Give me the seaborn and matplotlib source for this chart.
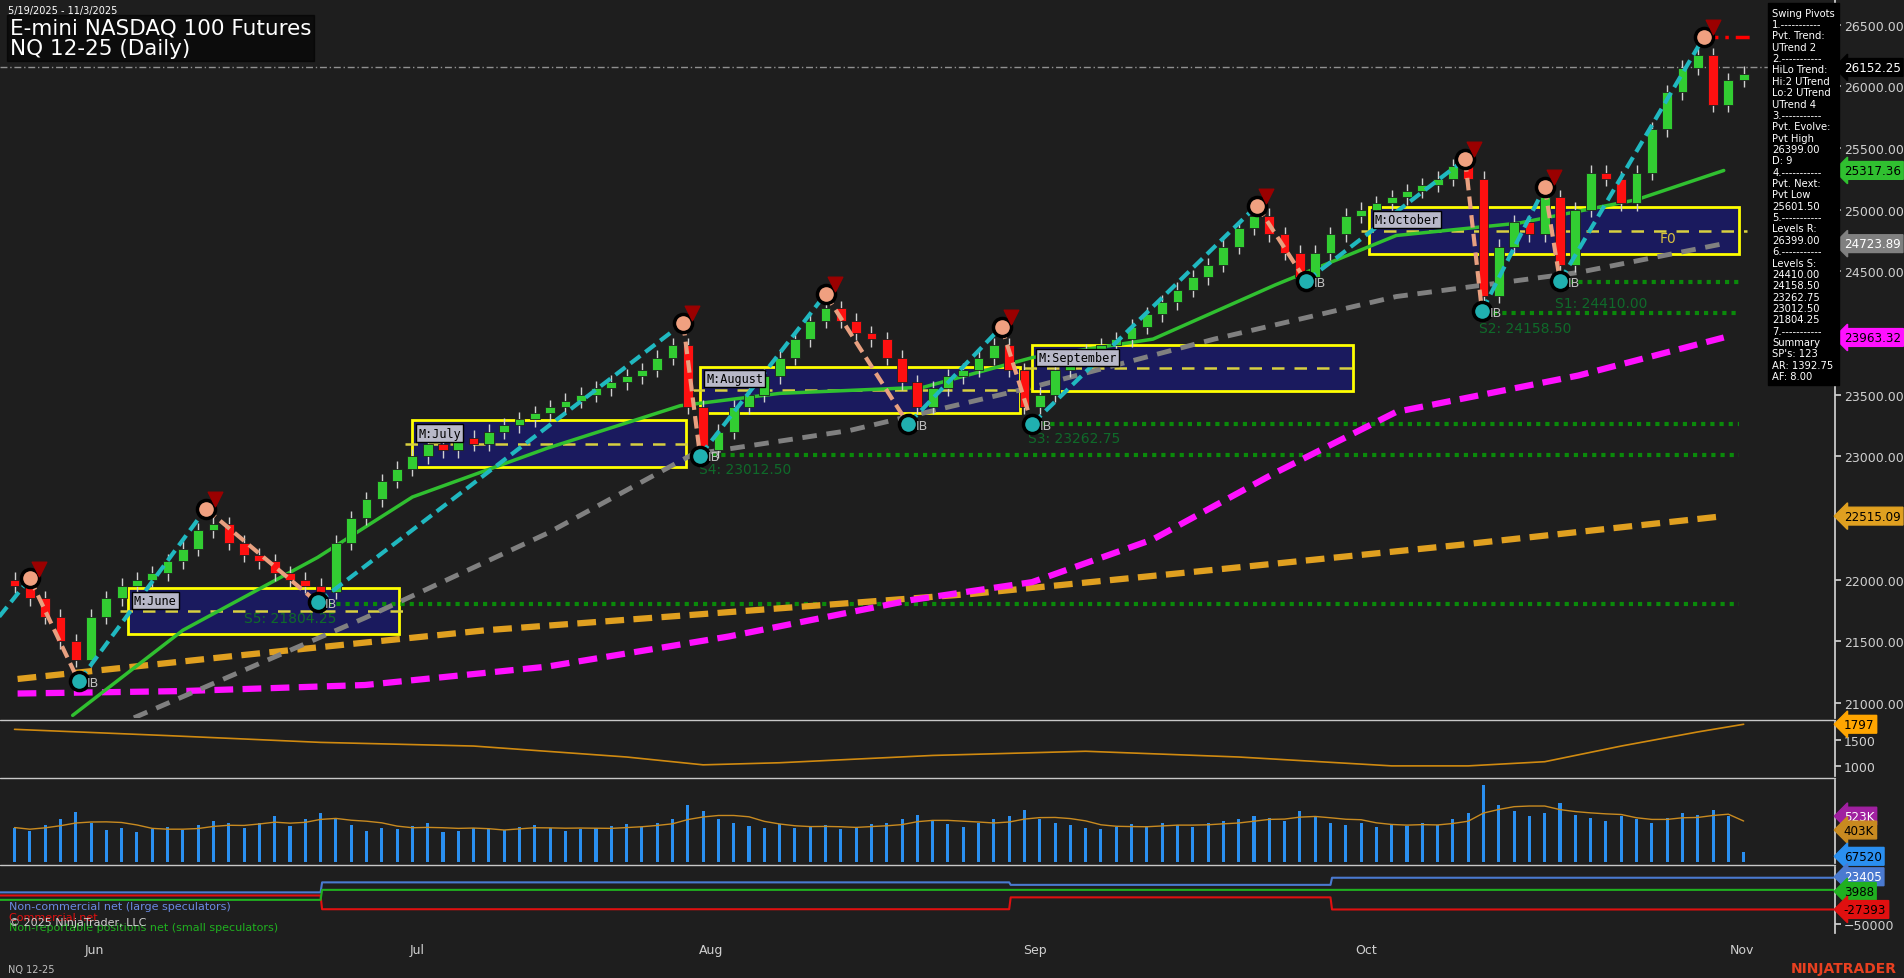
import numpy as np
import pandas as pd
import matplotlib
matplotlib.use("Agg")
import matplotlib.pyplot as plt
import seaborn as sns
from matplotlib.patches import Rectangle

sns.set_theme(style="dark")
plt.rcParams['font.family'] = ['DejaVu Sans']

BG = "#1e1e1e"
closes = [21950, 21850, 21700, 21500, 21350, 21700, 21850, 21950, 22000, 22050,
          22150, 22250, 22400, 22450, 22300, 22200, 22150, 22050, 22000, 21950,
          21900, 22300, 22500, 22650, 22800, 22900, 23000, 23100, 23050, 23150,
          23100, 23200, 23250, 23300, 23350, 23400, 23450, 23500, 23550, 23600,
          23650, 23700, 23800, 23900, 23400, 23050, 23200, 23400, 23500, 23650,
          23800, 23950, 24100, 24200, 24100, 24000, 23950, 23800, 23600, 23400,
          23550, 23650, 23700, 23800, 23900, 23700, 23400, 23500, 23700, 23800,
          23850, 23900, 23950, 24050, 24150, 24250, 24350, 24450, 24550, 24700,
          24850, 24950, 24800, 24650, 24450, 24650, 24800, 24950, 25000, 25050,
          25100, 25150, 25200, 25250, 25350, 25250, 24300, 24700, 24900, 24800,
          25100, 24550, 25000, 25300, 25250, 25050, 25300, 25650, 25950, 26150,
          26250, 25850, 26050, 26100]
first_open = 22000
volumes_k = [420, 380, 450, 520, 610, 480, 390, 410, 370, 400, 430, 390, 450, 500,
             470, 420, 480, 560, 440, 520, 600, 540, 450, 380, 420, 400, 440, 470,
             360, 380, 420, 400, 390, 430, 450, 410, 380, 400, 420, 440, 460, 430,
             480, 520, 700, 620, 520, 480, 440, 420, 460, 410, 430, 450, 400, 420,
             460, 480, 520, 580, 500, 460, 430, 470, 520, 560, 640, 520, 480, 450,
             420, 400, 430, 460, 440, 470, 450, 430, 480, 500, 520, 560, 540, 500,
             620, 560, 480, 450, 470, 430, 460, 440, 480, 450, 520, 600, 940, 700,
             620, 560, 600, 720, 580, 540, 500, 560, 520, 480, 540, 600, 580, 640,
             560, 120]
atr_idx = [0, 10, 20, 30, 40, 45, 50, 60, 70, 80, 90, 95, 100, 105, 110, 113]
atr_val = [1700, 1580, 1450, 1380, 1170, 1020, 1060, 1200, 1280, 1170, 1000, 1000, 1080, 1380, 1650, 1797]

ma_idx = [3.8, 11, 19.8, 26, 34.8, 43.5, 50, 59.4, 66.5, 74.4, 82.4, 90.3, 98.3, 106, 111.7]
ma_green = [20900, 21590, 22180, 22670, 23065, 23410, 23510, 23560, 23800, 23950, 24390, 24790, 24890, 25080, 25317]
gray_idx = [7.8, 22.9, 34.8, 44.3, 54.6, 66.5, 78.4, 90.3, 102.2, 111.7]
ma_gray = [20880, 21690, 22375, 23015, 23210, 23560, 23950, 24295, 24490, 24724]
mag_idx = [0.2, 11, 22.9, 34.8, 46.7, 58.6, 66.5, 74.4, 82.4, 90.3, 102.2, 111.7]
ma_mag = [21077, 21097, 21146, 21295, 21540, 21835, 21980, 22327, 22867, 23360, 23655, 23963]
org_idx = [0.2, 15, 30.8, 46.7, 62.5, 78.4, 94.3, 111.7]
ma_org = [21195, 21390, 21590, 21737, 21884, 22080, 22280, 22515]

piv_idx = [1, 4.2, 12.5, 19.8, 43.7, 44.8, 53, 58.4, 64.5, 66.5, 81.2, 84.4, 94.8, 95.9, 100, 101, 110.4]
piv_val = [22010, 21175, 22575, 21815, 24080, 23006, 24315, 23262, 24050, 23262, 25033, 24420, 25408, 24177, 25181, 24420, 26399]

boxes = [("M:June", 7.4, 25.1, 21560, 21933, 21745),
         ("M:July", 26.0, 43.9, 22917, 23291, 23100),
         ("M:August", 44.8, 65.7, 23351, 23725, 23540),
         ("M:September", 66.5, 87.5, 23528, 23902, 23715),
         ("M:October", 88.5, 112.7, 24640, 25024, 24830)]
supports = [("S5: 21804.25", 21804.25, 19.8), ("S4: 23012.50", 23012.5, 45),
            ("S3: 23262.75", 23262.75, 66.5), ("S2: 24158.50", 24158.5, 96),
            ("S1: 24410.00", 24410.0, 101)]
month_labels = ["Jun", "Jul", "Aug", "Sep", "Oct", "Nov"]
month_pos = [5.2, 26.3, 45.5, 66.7, 88.3, 112.9]
cot_idx = [-1, 20, 20.1, 65, 65.1, 86, 86.1, 119]
cot_noncomm = [0, 0, 16000, 16000, 12000, 12000, 23405, 23405]
cot_comm = [-5000, -5000, -27000, -27000, -8000, -8000, -27393, -27393]
cot_small = [-12000, -12000, 3988, 3988, 3988, 3988, 3988, 3988]

n = len(closes)
opens = [first_open] + closes[:-1]
df = pd.DataFrame({"i": np.arange(n), "open": opens, "close": closes})
df["up"] = df["close"] >= df["open"]

W, H = 19.04, 9.79
fig = plt.figure(figsize=(W, H), dpi=100, facecolor=BG)
XL = (-0.95, 119)
ax = fig.add_axes([0, 0.266, 0.964, 0.734], facecolor=BG)
ax_atr = fig.add_axes([0, 0.206, 0.964, 0.056], facecolor=BG)
ax_vol = fig.add_axes([0, 0.117, 0.964, 0.085], facecolor=BG)
ax_cot = fig.add_axes([0, 0.046, 0.964, 0.067], facecolor=BG)
for a in (ax, ax_atr, ax_vol, ax_cot):
    a.set_xlim(*XL)
    a.yaxis.tick_right()
    a.tick_params(axis='y', colors="#d0d0d0", labelsize=9, length=4, direction='out', pad=2)
    a.tick_params(axis='x', length=0, labelbottom=False)
    for s in a.spines.values():
        s.set_visible(False)
    a.spines['right'].set_visible(True); a.spines['right'].set_color("#d0d0d0")
    a.grid(False)
for yy in (0.264, 0.204, 0.115):
    fig.add_artist(plt.Line2D([0, 0.964], [yy, yy], color="#c8c8c8", lw=1))

ax.set_ylim(20882, 26707)
ax.set_yticks(np.arange(21000, 26501, 500))
ax.set_yticklabels([f"{v:.2f}" for v in np.arange(21000, 26501, 500)])

# boxes
for name, x0, x1, lo, hi, mid in boxes:
    ax.add_patch(Rectangle((x0, lo), x1 - x0, hi - lo, facecolor="#1a1a5e", edgecolor="yellow", lw=2, zorder=1))
    ax.plot([x0 - 0.5, x1 + 0.5], [mid, mid], color="#d8d040", ls=(0, (5, 4)), lw=1.8, zorder=2)
    ax.text(x0 + 0.4, mid + 60, name, color="black", fontsize=8.5, family="DejaVu Sans Mono",
            bbox=dict(facecolor="#b8b8c8", edgecolor="black", pad=1.5), zorder=8)
ax.text(107.5, 24740, "F0", color="#d8c040", fontsize=10)

# supports
for lab, v, start in supports:
    ax.plot([start, 112.7], [v, v], color="#0a8a0a", ls=(0, (1, 1.2)), lw=3, zorder=2)
    ax.text(start - 0.3 if lab != "S5: 21804.25" else 15, v - 150 if lab != "S1: 24410.00" else v - 200,
            lab, color="#0f6a2a", fontsize=10, zorder=3)

# moving averages
sns.lineplot(x=org_idx, y=ma_org, ax=ax, color="#e0a020", lw=4.5, ls=(0, (3, 1.5)), zorder=3)
sns.lineplot(x=mag_idx, y=ma_mag, ax=ax, color="#ff10ff", lw=4.5, ls=(0, (3, 1.5)), zorder=3)
sns.lineplot(x=gray_idx, y=ma_gray, ax=ax, color="#808080", lw=3.5, ls=(0, (3, 2)), zorder=3)
sns.lineplot(x=ma_idx, y=ma_green, ax=ax, color="#30c030", lw=2.5, zorder=3)

# candles
for _, r in df.iterrows():
    lo, hi = sorted([r.open, r.close])
    col = "#32cd32" if r.up else "#ff1010"
    ax.vlines(r.i, lo - 60, hi + 60, color="#d0d0d0", lw=1, zorder=4)
    ax.add_patch(Rectangle((r.i - 0.32, lo), 0.64, max(hi - lo, 12), facecolor=col,
                           edgecolor="#202020", lw=0.6, zorder=5))

# pivot zigzag
for k in range(len(piv_idx) - 1):
    up = piv_val[k + 1] > piv_val[k]
    ax.plot(piv_idx[k:k + 2], piv_val[k:k + 2], color="#20b8c0" if up else "#e8a080",
            lw=3, ls=(0, (3, 1.5)), zorder=6)
ax.plot([-1, piv_idx[0]], [21700, piv_val[0]], color="#20b8c0", lw=3, ls=(0, (3, 1.5)), zorder=6)
for k, (px, pv) in enumerate(zip(piv_idx, piv_val)):
    high = k % 2 == 0
    ax.scatter(px, pv, s=170, color="#f0a080" if high else "#20b0b0", edgecolor="black", lw=2.5, zorder=7)
    if high:
        ax.scatter(px + 0.6, pv + 80, marker="v", s=110, color="#9b0000", zorder=7)
    else:
        ax.text(px + 0.5, pv - 40, "IB", color="#c0c0c0", fontsize=9, zorder=7)
ax.plot([110.4, 113.6], [26399, 26399], color="red", lw=2.5, ls=(0, (4, 2, 1, 2)), zorder=6)
ax.axhline(26152.25, color="#909090", lw=1, ls=(0, (5, 2, 1, 2)), zorder=1)

# right axis value tags
def tag(a, y, txt, fc, tc="black"):
    a.annotate(txt, xy=(1.0, y), xycoords=("axes fraction", "data"), xytext=(6, 0),
               textcoords="offset points", va="center", ha="left", fontsize=8.6, color=tc,
               bbox=dict(boxstyle="larrow,pad=0.2", facecolor=fc, edgecolor=fc), annotation_clip=False)
tag(ax, 26152.25, "26152.25", "black", "white")
tag(ax, 25317.36, "25317.36", "#30c030")
tag(ax, 24723.89, "24723.89", "#808080", "white")
tag(ax, 23963.32, "23963.32", "#ff10ff")
tag(ax, 22515.09, "22515.09", "#e0a020")

# info box
info = ("Swing Pivots\n1.-----------\nPvt. Trend:\nUTrend 2\n2.-----------\nHiLo Trend:\nHi:2 UTrend\n"
        "Lo:2 UTrend\nUTrend 4\n3.-----------\nPvt. Evolve:\nPvt High\n26399.00\nD: 9\n4.-----------\n"
        "Pvt. Next:\nPvt Low\n25601.50\n5.-----------\nLevels R:\n26399.00\n6.-----------\nLevels S:\n"
        "24410.00\n24158.50\n23262.75\n23012.50\n21804.25\n7.-----------\nSummary\nSP's: 123\nAR: 1392.75\nAF: 8.00")
ax.text(0.9655, 0.988, info, transform=ax.transAxes, color="white", fontsize=7.2, va="top", ha="left",
        linespacing=1.17, bbox=dict(facecolor="black", edgecolor="black", pad=3), zorder=9)

# titles
fig.text(0.004, 0.994, "5/19/2025 - 11/3/2025", color="white", fontsize=7, va="top")
fig.text(0.005, 0.981, "E-mini NASDAQ 100 Futures\nNQ 12-25 (Daily)", color="white", fontsize=15.5,
         va="top", linespacing=1.05, bbox=dict(facecolor="black", edgecolor="black", pad=2, alpha=0.6))

# ATR
ax_atr.set_ylim(800, 1850)
ax_atr.set_yticks([1000, 1500])
sns.lineplot(x=atr_idx, y=atr_val, ax=ax_atr, color="#d08a10", lw=1.2)
tag(ax_atr, 1797, "1797", "#ffa500")

# volume
ax_vol.set_ylim(-20000, 1000000)
ax_vol.set_yticks([])
ax_vol.bar(df["i"], np.array(volumes_k) * 1000, width=0.2, color="#2a8ff0", edgecolor="none", linewidth=0)
vol_avg = pd.Series(volumes_k).rolling(5, min_periods=1).mean() * 1000
sns.lineplot(x=df["i"], y=vol_avg, ax=ax_vol, color="#c88a20", lw=1)
tag(ax_vol, 560000, "523K", "#a020a0", "white")
tag(ax_vol, 390000, "403K", "#c88a20")
tag(ax_vol, 67520, "67520", "#2a8ff0")

# COT
ax_cot.set_ylim(-65000, 40000)
ax_cot.set_yticks([-50000])
sns.lineplot(x=cot_idx, y=cot_noncomm, ax=ax_cot, color="#4a7ad0", lw=1.5)
sns.lineplot(x=cot_idx, y=cot_comm, ax=ax_cot, color="#e01010", lw=1.5)
sns.lineplot(x=cot_idx, y=cot_small, ax=ax_cot, color="#20b020", lw=1.5)
ax_cot.set_xlim(*XL)
tag(ax_cot, 25000, "23405", "#4a7ad0", "white")
tag(ax_cot, 1500, "3988", "#20b020")
tag(ax_cot, -27393, "-27393", "#e01010")
ax_cot.text(0.005, 0.36, "Non-commercial net (large speculators)", transform=ax_cot.transAxes, color="#6a8ae0", fontsize=8)
ax_cot.text(0.005, 0.20, "Commercial net", transform=ax_cot.transAxes, color="#e01010", fontsize=8)
ax_cot.text(0.005, 0.04, "Non-reportable positions net (small speculators)", transform=ax_cot.transAxes, color="#20b020", fontsize=8)
ax_cot.text(0.005, 0.12, "© 2025 NinjaTrader, LLC", transform=ax_cot.transAxes, color="#d0d0d0", fontsize=8)

# month labels
for lab, p in zip(month_labels, month_pos):
    fig.text((p - XL[0]) / (XL[1] - XL[0]) * 0.964, 0.026, lab, color="#d0d0d0", fontsize=9, ha="center")
fig.text(0.004, 0.006, "NQ 12-25", color="#c0c0c0", fontsize=7)
fig.text(0.996, 0.006, "NINJATRADER", color="#e84020", fontsize=10, ha="right", weight="bold")

fig.savefig("out.png", dpi=100, facecolor=BG)
